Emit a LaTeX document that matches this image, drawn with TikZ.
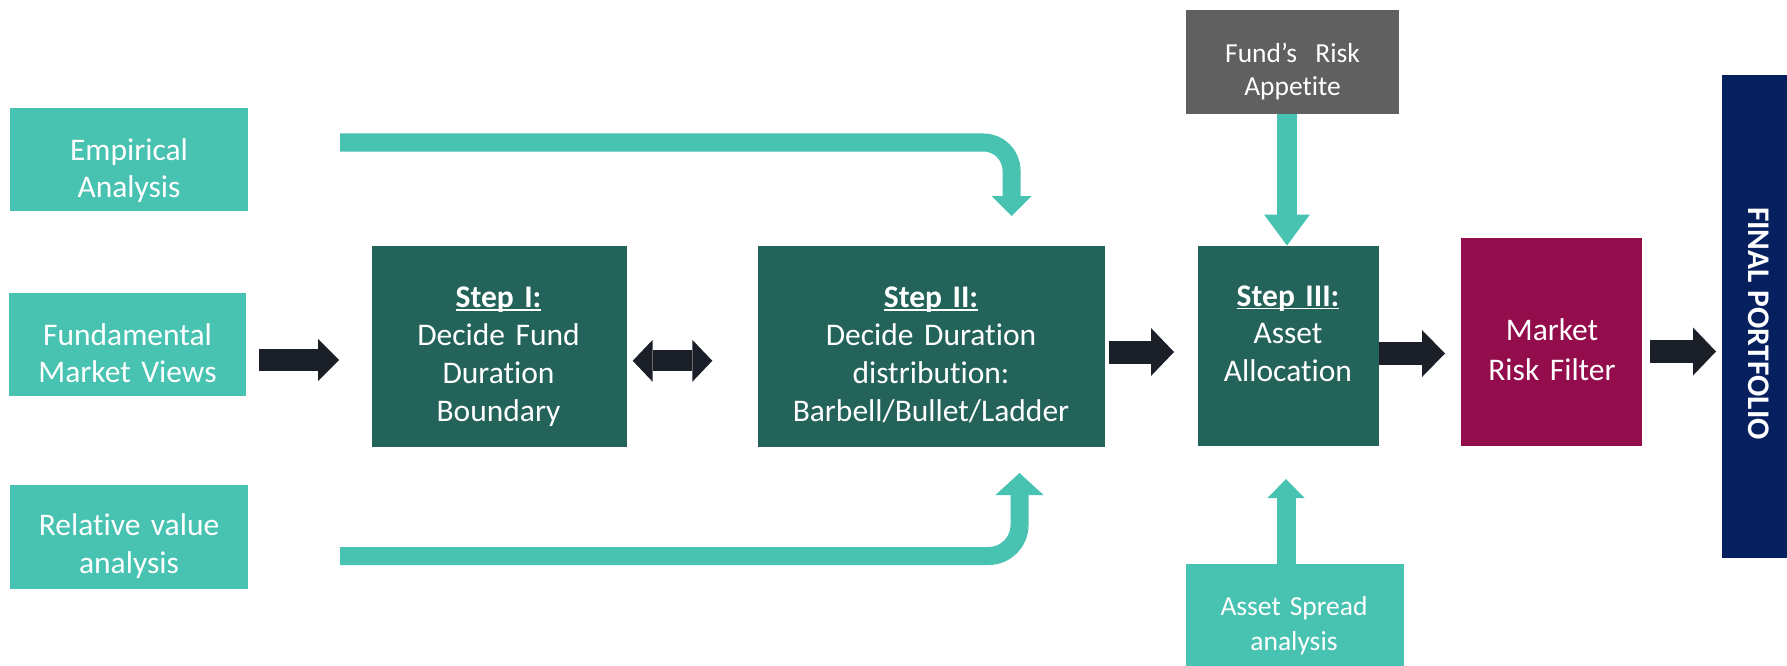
\documentclass[tikz,border=0pt]{standalone}
\usepackage{fontspec}
\setmainfont{Carlito}[Ligatures={NoCommon}]
\usetikzlibrary{arrows.meta}

\definecolor{inputteal}{HTML}{48C2B1}
\definecolor{stepgreen}{HTML}{23635A}
\definecolor{riskgray}{HTML}{606060}
\definecolor{filterwine}{HTML}{930C4B}
\definecolor{outnavy}{HTML}{061F5F}
\definecolor{blockdark}{HTML}{1A1F28}

% underline that crosses descenders, as in slide software
\newsavebox\steplabelbox
\newcommand\steptitle[1]{\sbox\steplabelbox{\bfseries #1}%
  \rlap{\rule[-3.3pt]{\wd\steplabelbox}{1.8pt}}\usebox\steplabelbox}

\tikzset{
  panel/.style={rectangle, inner sep=0pt, outer sep=0pt, draw=none},
  bodytext/.style={text=white, align=center, anchor=base, inner sep=0pt,
    text width=#1, font=\fontsize{31.5}{37.8}\selectfont},
  smalltext/.style={text=white, align=center, anchor=base, inner sep=0pt,
    text width=#1, font=\fontsize{27.5}{33}\selectfont},
  feedpath/.style={draw=inputteal, line width=18pt, rounded corners=28pt},
  darkarrow/.style={draw=blockdark, line width=23pt,
    -{Triangle[width=48pt,length=23pt,line width=0pt]}},
}

\begin{document}
\begin{tikzpicture}[x=1pt,y=-1pt]
\useasboundingbox (0,0) rectangle (1787,666);

% input boxes
\node[panel, fill=inputteal, minimum width=238pt, minimum height=103pt] (emp) at (129,159.5) {};
\node[panel, fill=inputteal, minimum width=237pt, minimum height=103pt] (fund) at (127.5,344.5) {};
\node[panel, fill=inputteal, minimum width=238pt, minimum height=104pt] (rel) at (129,537) {};
\node[bodytext=230pt] (empt) at (129,160) {Empirical\\Analysis};
\node[bodytext=230pt] (fundt) at (127.5,345) {Fundamental\\Market Views};
\node[bodytext=230pt] (relt) at (129,535.7) {Relative value\\analysis};

% step boxes
\node[panel, fill=stepgreen, minimum width=255pt, minimum height=201pt] (s1) at (499.5,346.5) {};
\node[panel, fill=stepgreen, minimum width=347pt, minimum height=201pt] (s2) at (931.5,346.5) {};
\node[panel, fill=stepgreen, minimum width=181pt, minimum height=200pt] (s3) at (1288.5,346) {};
\node[bodytext=250pt] (s1t) at (498.5,307.7) {\steptitle{Step I:}\\Decide Fund\\Duration\\Boundary};
\node[bodytext=340pt] (s2t) at (931,307.7) {\steptitle{Step II:}\\Decide Duration\\distribution:\\Barbell/Bullet/Ladder};
\node[bodytext=178pt] (s3t) at (1288,306) {\steptitle{Step III:}\\Asset\\Allocation};

% side inputs of step III
\node[panel, fill=riskgray, minimum width=213pt, minimum height=104pt] (risk) at (1292.5,62) {};
\node[smalltext=210pt] (riskt) at (1292.5,62.3) {Fund’s\ \ Risk\\Appetite};
\node[panel, fill=inputteal, minimum width=218pt, minimum height=126pt] (spread) at (1295,627) {};
\node[smalltext=215pt] (spreadt) at (1294,615.7) {Asset Spread\\[1.5pt]analysis};

% filter and output
\node[panel, fill=filterwine, minimum width=181pt, minimum height=208pt] (mkt) at (1551.5,342) {};
\node[bodytext=178pt, font=\fontsize{31.5}{39.3}\selectfont] (mktt) at (1552,340.7) {Market\\Risk Filter};
\node[panel, fill=outnavy, minimum width=78pt, minimum height=483pt] (final) at (1761,316.5) {};
\node[text=white, inner sep=0pt, rotate=-90, font=\fontsize{31.5}{36}\selectfont\bfseries] (finalt) at (1759,323.5) {FINAL PORTFOLIO};

% feed lines into step II
\coordinate (empfeed) at (340,142.5);
\coordinate (s2top) at (1011.5,216);
\coordinate (relfeed) at (340,556);
\coordinate (s2bottom) at (1019.5,473);
\draw[feedpath, -{Triangle[width=40pt,length=20pt,line width=0pt]}] (empfeed) -| (s2top);
\draw[feedpath, rounded corners=31pt, -{Triangle[width=48pt,length=22pt,line width=0pt]}] (relfeed) -| (s2bottom);

% vertical feeds into step III
\coordinate (s3riskin) at (1287,245.5);
\coordinate (s3spreadin) at (1286,479);
\draw[draw=inputteal, line width=20pt, -{Triangle[width=46pt,length=31pt,line width=0pt]}] (risk.south -| s3riskin) -- (s3riskin);
\draw[draw=inputteal, line width=19pt, -{Triangle[width=37pt,length=19pt,line width=0pt]}] (spread.north -| s3spreadin) -- (s3spreadin);

% dark process arrows
\coordinate (a1s) at (259,360);   \coordinate (a1e) at (339,360);
\coordinate (a2s) at (632.7,360.8); \coordinate (a2e) at (712.3,360.8);
\coordinate (a3s) at (1109,352);  \coordinate (a3e) at (1174,352);
\coordinate (a4s) at (1379,353.5); \coordinate (a4e) at (1445,353.5);
\coordinate (a5s) at (1650,351.5); \coordinate (a5e) at (1716,351.5);
\draw[darkarrow, line width=22pt, -{Triangle[width=42pt,length=21pt,line width=0pt]}] (a1s) -- (a1e);
\draw[draw=blockdark, line width=21pt,
  {Triangle[width=42pt,length=20pt,line width=0pt]}-{Triangle[width=42pt,length=20pt,line width=0pt]}] (a2s) -- (a2e);
\draw[darkarrow] (a3s) -- (a3e);
\draw[darkarrow, -{Triangle[width=47pt,length=23pt,line width=0pt]}] (a4s) -- (a4e);
\draw[darkarrow] (a5s) -- (a5e);
\end{tikzpicture}
\end{document}
